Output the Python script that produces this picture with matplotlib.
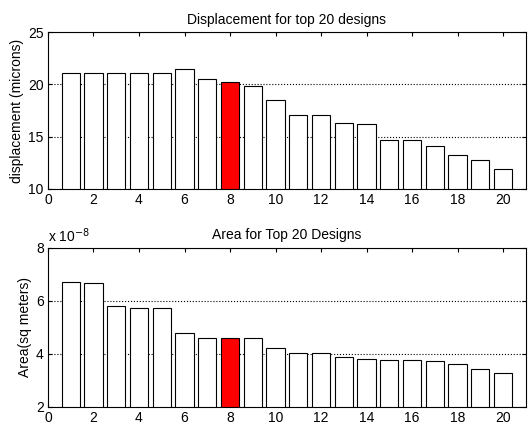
import matplotlib.pyplot as plt
from matplotlib.ticker import FuncFormatter

plt.rcParams['font.family'] = ['Liberation Sans', 'DejaVu Sans']

# ranking of the designs
designs = list(range(1, 21))
best = 8

# displacement in microns
displacement = [21.1, 21.1, 21.1, 21.1, 21.1, 21.5, 20.55, 20.2, 19.85, 18.5,
                17.05, 17.05, 16.3, 16.2, 14.65, 14.65, 14.1, 13.25, 12.75, 11.9]

# area in units of 1e-8 sq meters
area = [6.72, 6.67, 5.79, 5.74, 5.74, 4.77, 4.59, 4.59, 4.59, 4.21,
        4.01, 4.01, 3.88, 3.80, 3.75, 3.75, 3.72, 3.61, 3.41, 3.26]
area_scale = 1e-8

fig = plt.figure(figsize=(5.29, 4.25), dpi=100)
ax1 = fig.add_axes([0.0907, 0.5553, 0.9033, 0.3694])
ax2 = fig.add_axes([0.0907, 0.0430, 0.9033, 0.3742])

colors = ['red' if d == best else 'white' for d in designs]


def style(ax):
    ax.set_xlim(0, 21)
    ax.set_xticks(range(0, 21, 2))
    ax.tick_params(direction='in', top=True, right=True, length=3,
                   width=0.8, labelsize=10, pad=3)
    ax.yaxis.grid(True, linestyle=':', color='black', linewidth=0.8)
    ax.set_axisbelow(True)
    for s in ax.spines.values():
        s.set_linewidth(0.8)


ax1.bar(designs, displacement, width=0.8, color=colors, edgecolor='black',
        linewidth=0.8)
ax1.set_ylim(10, 25)
ax1.set_yticks([10, 15, 20, 25])
style(ax1)
ax1.set_title('Displacement for top 20 designs', fontsize=10, pad=6)
ax1.set_ylabel('displacement (microns)', fontsize=10, labelpad=3)

area_m2 = [a * area_scale for a in area]
ax2.bar(designs, area_m2, width=0.8, color=colors, edgecolor='black',
        linewidth=0.8)
ax2.set_ylim(2 * area_scale, 8 * area_scale)
ax2.set_yticks([v * area_scale for v in (2, 4, 6, 8)])
ax2.yaxis.set_major_formatter(FuncFormatter(lambda v, p: f'{v / area_scale:.0f}'))
style(ax2)
ax2.set_title('Area for Top 20 Designs', fontsize=10, pad=6)
ax2.set_ylabel('Area(sq meters)', fontsize=10, labelpad=3)
ax2.text(0.0, 1.02, r'x 10$^{-8}$', transform=ax2.transAxes, fontsize=10,
         ha='left', va='bottom')

fig.savefig('out.png', dpi=100)
